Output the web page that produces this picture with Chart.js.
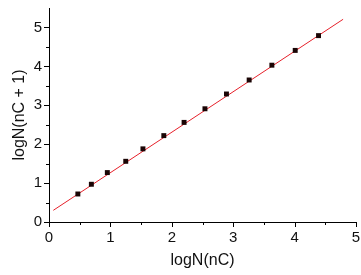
<!DOCTYPE html>
<html>
<head>
<meta charset="utf-8">
<script src="https://cdn.jsdelivr.net/npm/chart.js@4.4.1/dist/chart.umd.min.js"></script>
<style>
  html, body { margin: 0; padding: 0; background: #fff; }
  #wrap { width: 361px; height: 275px; }
</style>
</head>
<body>
<div id="wrap"><canvas id="chart"></canvas></div>
<script>
// measured points, logN(nC) vs logN(nC + 1)
var xData = [0.47, 0.69, 0.95, 1.25, 1.53, 1.87, 2.20, 2.54, 2.89, 3.26, 3.63, 4.01, 4.39];
var yData = [0.72, 0.97, 1.27, 1.56, 1.88, 2.22, 2.56, 2.91, 3.29, 3.65, 4.03, 4.41, 4.79];

// linear fit, end points
var fitX = [0.07, 4.79];
var fitY = [0.30, 5.21];

var xTicks = [0, 1, 2, 3, 4, 5];
var yTicks = [0, 1, 2, 3, 4, 5];

var fontFamily = '"Liberation Sans", Arial, sans-serif';

function toPoints(xs, ys) {
    return xs.map(function (x, i) { return { x: x, y: ys[i] }; });
}

// small outward tick marks, majors at integers and minors at halves
var tickMarks = {
    id: 'tickMarks',
    afterDraw: function (chart) {
        var ctx = chart.ctx;
        var xs = chart.scales.x, ys = chart.scales.y;
        var area = chart.chartArea;
        ctx.save();
        ctx.strokeStyle = '#000';
        ctx.lineWidth = 1;
        ctx.beginPath();
        for (var v = 0; v <= 5.001; v += 0.5) {
            var len = (v % 1 === 0) ? 5 : 3;
            var px = Math.round(xs.getPixelForValue(v)) + 0.5;
            ctx.moveTo(px, area.bottom);
            ctx.lineTo(px, area.bottom + len);
            var py = Math.round(ys.getPixelForValue(v)) + 0.5;
            ctx.moveTo(area.left, py);
            ctx.lineTo(area.left - len, py);
        }
        ctx.stroke();
        ctx.restore();
    }
};

var ctx = document.getElementById('chart').getContext('2d');
var chart = new Chart(ctx, {
    type: 'scatter',
    data: {
        datasets: [{
            label: 'fit',
            type: 'line',
            data: toPoints(fitX, fitY),
            borderColor: '#e6202a',
            borderWidth: 1,
            pointRadius: 0,
            fill: false,
            order: 2
        }, {
            label: 'data',
            data: toPoints(xData, yData),
            pointStyle: 'rect',
            pointRadius: 3.5,
            pointHoverRadius: 3.5,
            backgroundColor: '#1a0505',
            borderColor: '#1a0505',
            borderWidth: 0,
            order: 1
        }]
    },
    plugins: [tickMarks],
    options: {
        responsive: true,
        maintainAspectRatio: false,
        animation: false,
        layout: { padding: { top: 8, right: 5, left: 0, bottom: 0 } },
        plugins: {
            legend: { display: false },
            tooltip: { enabled: false }
        },
        scales: {
            x: {
                type: 'linear',
                min: 0,
                max: 5,
                afterBuildTicks: function (s) { s.ticks = xTicks.map(function (v) { return { value: v }; }); },
                afterFit: function (s) { s.height = 53; s.paddingLeft = 0; s.paddingRight = 0; },
                grid: { display: true, drawOnChartArea: false, drawTicks: false },
                border: { display: true, color: '#000', width: 1 },
                ticks: {
                    color: '#111',
                    padding: 7,
                    maxRotation: 0,
                    font: { family: fontFamily, size: 15 }
                },
                title: {
                    display: true,
                    text: 'logN(nC)',
                    color: '#111',
                    padding: { top: 0, bottom: 5 },
                    font: { family: fontFamily, size: 16 }
                }
            },
            y: {
                type: 'linear',
                min: 0,
                max: 5.5,
                afterBuildTicks: function (s) { s.ticks = yTicks.map(function (v) { return { value: v }; }); },
                afterFit: function (s) { s.width = 49; s.paddingTop = 0; s.paddingBottom = 0; },
                grid: { display: true, drawOnChartArea: false, drawTicks: false },
                border: { display: true, color: '#000', width: 1 },
                ticks: {
                    color: '#111',
                    padding: 7,
                    font: { family: fontFamily, size: 15 }
                },
                title: {
                    display: true,
                    text: 'logN(nC + 1)',
                    color: '#111',
                    padding: { top: 10, bottom: 0 },
                    font: { family: fontFamily, size: 16 }
                }
            }
        }
    }
});
</script>
</body>
</html>
